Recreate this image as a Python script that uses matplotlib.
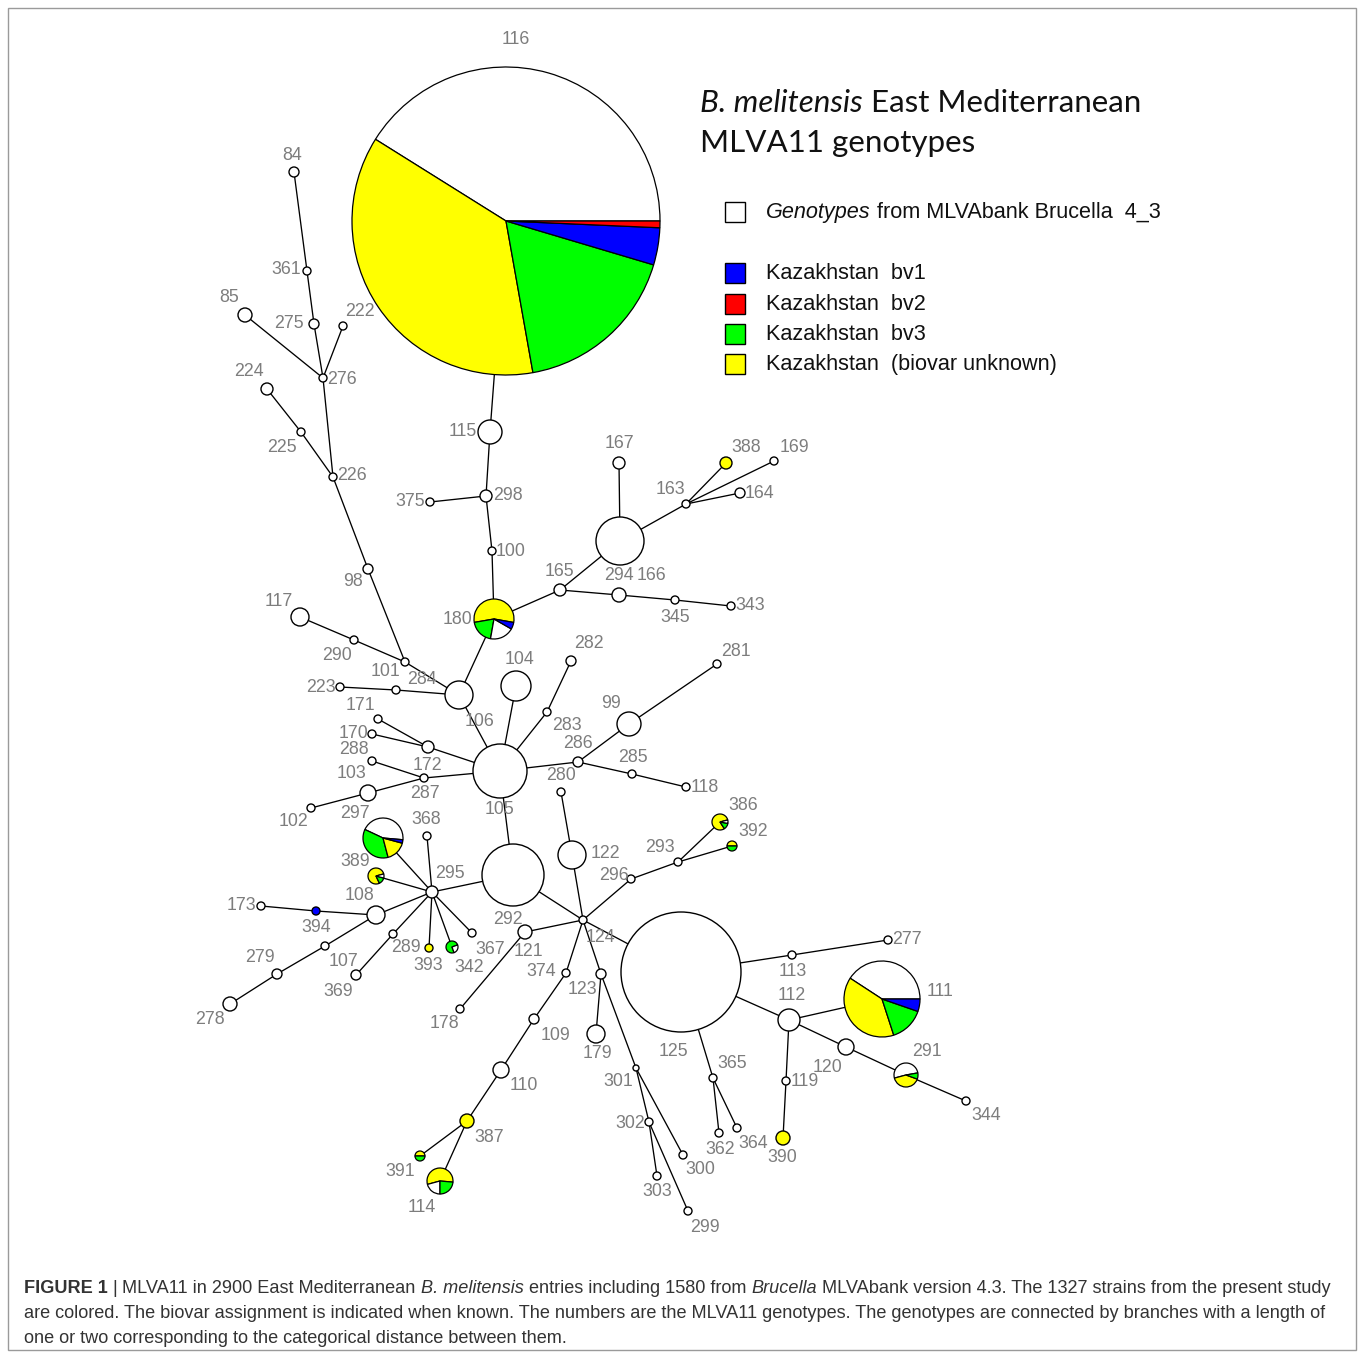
import matplotlib
matplotlib.use('Agg')
import matplotlib.pyplot as plt
from matplotlib.patches import Circle, Rectangle
from matplotlib import font_manager

# categories and colours
cat_names = ['Genotypes from MLVAbank Brucella 4_3', 'Kazakhstan bv1', 'Kazakhstan bv2',
             'Kazakhstan bv3', 'Kazakhstan (biovar unknown)']
cat_keys = ['w', 'b', 'r', 'g', 'y']
cat_colors = {'w': '#ffffff', 'b': '#0000ff', 'r': '#ff0000', 'g': '#00ff00', 'y': '#ffff00'}

# MST layout (figure pixels): id, x, y, radius
layout = [
    ('116', 506, 221, 154), ('115', 490, 432, 12), ('298', 486, 496, 6), ('375', 430, 502, 4),
    ('100', 492, 551, 4), ('180', 494, 619, 20), ('84', 294, 172, 5), ('361', 307, 271, 4),
    ('275', 314, 324, 5), ('222', 343, 326, 4), ('85', 245, 315, 7), ('276', 323, 378, 4),
    ('224', 267, 389, 6), ('225', 301, 432, 4), ('226', 333, 477, 4), ('98', 368, 569, 5),
    ('117', 300, 617, 9), ('290', 354, 640, 4), ('284', 405, 662, 4), ('101', 396, 690, 4),
    ('223', 340, 687, 4), ('106', 459, 695, 14), ('104', 516, 686, 15), ('282', 571, 661, 5),
    ('283', 547, 712, 4), ('105', 500, 771, 27), ('281', 717, 664, 4), ('99', 629, 724, 12),
    ('286', 578, 762, 5), ('285', 632, 774, 4), ('118', 686, 787, 4), ('280', 561, 792, 4),
    ('171', 378, 719, 4), ('170', 372, 734, 4), ('172', 428, 747, 6), ('288', 372, 761, 4),
    ('287', 424, 778, 4), ('103', 368, 793, 8), ('102', 311, 808, 4), ('x1', 513, 875, 31),
    ('295', 432, 892, 6), ('297', 383, 838, 20), ('389', 376, 876, 8), ('368', 427, 836, 4),
    ('108', 376, 915, 9), ('394', 316, 911, 4), ('173', 261, 906, 4), ('107', 325, 946, 4),
    ('279', 277, 974, 5), ('278', 230, 1004, 7), ('289', 393, 934, 4), ('369', 356, 975, 5),
    ('393', 429, 948, 4), ('342', 452, 947, 6), ('367', 472, 933, 4), ('124', 583, 920, 4),
    ('292', 525, 932, 7), ('178', 460, 1009, 4), ('122', 572, 855, 14), ('296', 631, 879, 4),
    ('293', 678, 862, 4), ('386', 720, 822, 8), ('392', 732, 846, 5), ('125', 681, 972, 60),
    ('374', 566, 973, 4), ('109', 534, 1019, 5), ('110', 501, 1070, 8), ('387', 467, 1121, 7),
    ('391', 420, 1156, 5), ('114', 440, 1181, 13), ('123', 601, 974, 5), ('179', 596, 1034, 9),
    ('301', 636, 1068, 3), ('302', 649, 1122, 4), ('303', 657, 1176, 4), ('300', 683, 1155, 4),
    ('299', 688, 1211, 4), ('113', 792, 955, 4), ('277', 888, 940, 4), ('112', 789, 1020, 11),
    ('111', 882, 999, 38), ('120', 846, 1047, 8), ('291', 906, 1075, 12), ('344', 966, 1101, 4),
    ('119', 786, 1081, 4), ('390', 783, 1138, 7), ('365', 713, 1078, 4), ('362', 719, 1133, 4),
    ('364', 737, 1128, 4), ('165', 560, 590, 6), ('166', 620, 541, 24), ('294', 619, 595, 7),
    ('345', 675, 600, 4), ('343', 731, 606, 4), ('167', 619, 463, 6), ('163', 686, 504, 4),
    ('388', 726, 463, 6), ('169', 774, 461, 4), ('164', 740, 493, 5),
]

edges = [
    ('116', '115'), ('115', '298'), ('298', '375'), ('298', '100'), ('100', '180'),
    ('180', '165'), ('165', '166'), ('165', '294'), ('294', '345'), ('345', '343'),
    ('166', '167'), ('166', '163'), ('163', '388'), ('163', '169'), ('163', '164'),
    ('180', '106'), ('84', '361'), ('361', '275'), ('275', '276'), ('222', '276'),
    ('85', '276'), ('276', '226'), ('224', '225'), ('225', '226'), ('226', '98'),
    ('98', '284'), ('117', '290'), ('290', '284'), ('284', '106'), ('223', '101'),
    ('101', '106'), ('106', '105'), ('105', '104'), ('105', '283'), ('283', '282'),
    ('105', '286'), ('286', '99'), ('99', '281'), ('286', '285'), ('285', '118'),
    ('105', '172'), ('171', '172'), ('170', '172'), ('105', '287'), ('288', '287'),
    ('103', '287'), ('102', '103'), ('105', 'x1'), ('x1', '295'), ('x1', '124'),
    ('295', '297'), ('295', '389'), ('295', '108'), ('295', '368'), ('295', '289'),
    ('289', '369'), ('295', '393'), ('295', '342'), ('295', '367'), ('108', '394'),
    ('394', '173'), ('108', '107'), ('107', '279'), ('279', '278'), ('124', '122'),
    ('122', '280'), ('124', '296'), ('296', '293'), ('293', '386'), ('293', '392'),
    ('124', '125'), ('124', '292'), ('292', '178'), ('124', '374'), ('374', '109'),
    ('109', '110'), ('110', '387'), ('387', '391'), ('387', '114'), ('124', '123'),
    ('123', '179'), ('123', '301'), ('301', '300'), ('301', '302'), ('302', '303'),
    ('302', '299'), ('125', '113'), ('113', '277'), ('125', '112'), ('112', '111'),
    ('112', '119'), ('119', '390'), ('112', '120'), ('120', '291'), ('291', '344'),
    ('125', '365'), ('365', '362'), ('365', '364'),
]

# coloured genotypes: slice order (counter-clockwise), share in %, start angle
pie_ids = ['116', '111', '180', '297', '114', '389', '386', '392', '391', '342', '291']
pie_order = ['wygbr', 'wygb', 'ygwb', 'wgyb', 'ywg', 'ygw', 'ygw', 'yg', 'yg', 'gw', 'wyg']
pie_share = [[41.1, 36.7, 17.6, 3.9, 0.7], [40.8, 39.2, 14.7, 5.3], [55.5, 19.5, 19.5, 5.5],
             [44.4, 36.1, 16.7, 2.8], [55.6, 20.8, 23.6], [77.8, 13.9, 8.3], [80, 13, 7],
             [50, 50], [50, 50], [75, 25], [51.4, 40.3, 8.3]]
pie_start = [0, 0, -10, -5, -5, 15, 15, 0, 0, 20, 10]

solid_ids = ['388', '393', '387', '390', '394']
solid_cat = ['y', 'y', 'y', 'y', 'b']

# genotype labels (text, x, y)
labels = [
    ('116', 516, 39), ('84', 292, 155), ('361', 286, 270), ('85', 229, 298), ('275', 289, 323),
    ('222', 360, 311), ('224', 249, 372), ('276', 342, 380), ('115', 463, 432), ('225', 282, 447),
    ('226', 352, 476), ('375', 410, 502), ('298', 508, 496), ('100', 511, 551), ('167', 619, 444),
    ('388', 746, 447), ('169', 794, 447), ('163', 670, 489), ('164', 759, 493), ('165', 559, 571),
    ('294', 619, 575), ('166', 651, 575), ('98', 353, 582), ('117', 279, 601), ('180', 457, 619),
    ('345', 675, 617), ('343', 750, 606), ('282', 589, 644), ('281', 736, 651), ('290', 337, 656),
    ('104', 520, 659), ('101', 386, 672), ('284', 422, 679), ('223', 321, 687), ('171', 360, 706),
    ('99', 611, 703), ('106', 480, 721), ('283', 567, 726), ('170', 353, 734), ('286', 578, 744),
    ('288', 354, 749), ('285', 633, 758), ('172', 427, 765), ('103', 351, 773), ('280', 561, 776),
    ('118', 705, 788), ('287', 425, 794), ('386', 743, 805), ('105', 500, 810), ('297', 355, 814),
    ('102', 294, 822), ('368', 426, 820), ('392', 753, 832), ('293', 660, 847), ('122', 605, 853),
    ('389', 355, 862), ('295', 450, 874), ('296', 614, 875), ('108', 359, 895), ('173', 241, 906),
    ('292', 508, 920), ('394', 316, 927), ('124', 600, 937), ('277', 907, 939), ('289', 406, 948),
    ('367', 490, 949), ('121', 528, 951), ('279', 260, 958), ('107', 343, 962), ('393', 428, 966),
    ('342', 469, 967), ('113', 793, 971), ('374', 541, 972), ('123', 582, 990), ('111', 940, 992),
    ('369', 338, 991), ('112', 792, 996), ('178', 444, 1024), ('278', 210, 1020), ('109', 555, 1036),
    ('179', 597, 1054), ('125', 673, 1052), ('291', 927, 1052), ('365', 732, 1064), ('120', 828, 1068),
    ('301', 618, 1081), ('119', 805, 1081), ('110', 524, 1086), ('344', 986, 1115), ('302', 630, 1123),
    ('387', 489, 1138), ('364', 753, 1143), ('362', 720, 1149), ('390', 782, 1157), ('300', 700, 1170),
    ('391', 400, 1172), ('303', 657, 1191), ('114', 422, 1207), ('299', 705, 1227),
]

W, H = 1358, 1353
fig = plt.figure(figsize=(W / 100, H / 100), dpi=100)
ax = fig.add_axes([0, 0, 1, 1])

pos = {n: (x, y, r) for n, x, y, r in layout}

# branches
for a, b in edges:
    ax.plot([pos[a][0], pos[b][0]], [pos[a][1], pos[b][1]], color='black', lw=0.95, zorder=1)

# plain nodes
pie_set = set(pie_ids)
solid = dict(zip(solid_ids, solid_cat))
for n, x, y, r in layout:
    if n in pie_set:
        continue
    fc = cat_colors[solid.get(n, 'w')]
    ax.add_patch(Circle((x, y), r, facecolor=fc, edgecolor='black', lw=1.0, zorder=2))

# pie nodes (y axis is inverted, so draw clockwise in data space)
for n, order, share, st in zip(pie_ids, pie_order, pie_share, pie_start):
    x, y, r = pos[n]
    ax.pie(share, colors=[cat_colors[c] for c in order], center=(x, y), radius=r,
           startangle=-st, counterclock=False, frame=True,
           wedgeprops=dict(edgecolor='black', linewidth=0.9, zorder=2))

lab_font = 'Liberation Sans'
for t, x, y in labels:
    ax.text(x, y, t, fontsize=12.8, family=lab_font, color='#7d7d7d',
            ha='center', va='center', zorder=3)

ax.set_xlim(0, W)
ax.set_ylim(H, 0)
ax.set_aspect('auto')
ax.axis('off')

renderer = fig.canvas.get_renderer()
inv = ax.transData.inverted()


def runs(x, y, parts, size, family, color):
    for txt, style, weight in parts:
        t = ax.text(x, y, txt, fontsize=size, family=family, style=style,
                    weight=weight, color=color, ha='left', va='baseline')
        bb = t.get_window_extent(renderer=renderer)
        x = inv.transform((bb.x1, bb.y0))[0]


# title and legend
title_font = 'Lato'
runs(700, 112, [('B. melitensis', 'italic', 'normal'),
                (' East Mediterranean', 'normal', 'normal')], 22.6, title_font, '#111111')
runs(700, 152, [('MLVA11 genotypes', 'normal', 'normal')], 22.6, title_font, '#111111')

leg_y = [212, 273, 304, 334, 364]
for k, c, yy in zip(cat_keys, cat_names, leg_y):
    ax.add_patch(Rectangle((725, yy - 10), 20, 20, facecolor=cat_colors[k],
                           edgecolor='black', lw=1.0))
    if k == 'w':
        runs(766, yy + 6, [('Genotypes', 'italic', 'normal'),
                           (' from MLVAbank Brucella  4_3', 'normal', 'normal')],
             15.6, lab_font, '#111111')
    else:
        runs(766, yy + 6, [(c.replace('Kazakhstan ', 'Kazakhstan  '), 'normal', 'normal')],
             15.6, lab_font, '#111111')

# frame
ax.add_patch(Rectangle((8, 8), W - 10, H - 11, fill=False, edgecolor='#9a9a9a', lw=1.0))

# caption
names = {f.name for f in font_manager.fontManager.ttflist}
cap_font = 'Liberation Sans Narrow' if 'Liberation Sans Narrow' in names else 'Liberation Sans'
cap_size = 13.05
runs(24, 1293, [('FIGURE 1', 'normal', 'bold'), (' | ', 'normal', 'normal'),
                ('MLVA11 in 2900 East Mediterranean ', 'normal', 'normal'),
                ('B. melitensis', 'italic', 'normal'),
                (' entries including 1580 from ', 'normal', 'normal'),
                ('Brucella', 'italic', 'normal'),
                (' MLVAbank version 4.3. The 1327 strains from the present study', 'normal', 'normal')],
     cap_size, cap_font, '#333333')
runs(24, 1318, [('are colored. The biovar assignment is indicated when known. The numbers are the '
                 'MLVA11 genotypes. The genotypes are connected by branches with a length of',
                 'normal', 'normal')], cap_size, cap_font, '#333333')
runs(24, 1343, [('one or two corresponding to the categorical distance between them.',
                 'normal', 'normal')], cap_size, cap_font, '#333333')

fig.savefig('out.png', dpi=100)
